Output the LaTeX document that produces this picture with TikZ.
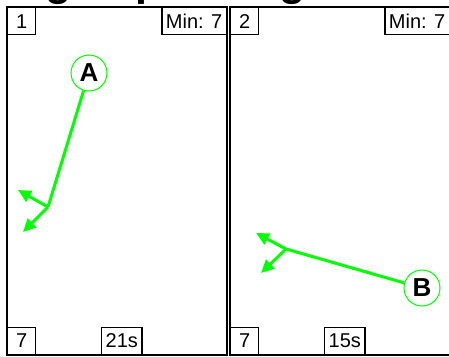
\documentclass[tikz,border=0pt]{standalone}
\usepackage{fontspec}
\setmainfont{Liberation Sans}
\usetikzlibrary{arrows.meta}
\definecolor{grn}{RGB}{0,255,0}
\begin{document}
\begin{tikzpicture}[x=1pt,y=-1pt,
  panel/.style={draw=black, line width=2pt},
  lbl/.style={draw=black, line width=1.4pt, fill=white, minimum width=28pt,
    minimum height=27pt, inner xsep=4pt, inner ysep=0pt,
    font=\fontsize{20}{22}\selectfont},
  marker/.style={circle, draw=grn, line width=1pt, fill=white,
    minimum size=36pt, inner sep=0pt, font=\fontsize{26}{28}\selectfont\bfseries},
  mv/.style={draw=grn, line width=3pt},
  mvarrow/.style={mv, -{Triangle[length=13pt,width=12pt]}},
  titlefont/.style={font=\fontsize{43}{46}\selectfont\bfseries, inner sep=0pt}
]
\useasboundingbox (0,0) rectangle (449,356);
\clip (0,0) rectangle (449,356);
\fill[white] (0,0) rectangle (449,356);

% title (mostly above the visible area)
\node[titlefont, anchor=base west] (title) at (-22,-5) {Stage Split Diagram};

% panels
\draw[panel] (7,7) rectangle (227,355);
\draw[panel] (230,7) rectangle (450,355);

% labels left panel
\node[lbl, anchor=north west] (n1) at (7,7) {1};
\node[lbl, anchor=north east] (m1) at (227,7) {Min: 7};
\node[lbl, anchor=south west] (b1) at (7,355) {7};
\node[lbl, anchor=south west] (t1) at (101,355) {21s};

% labels right panel
\node[lbl, anchor=north west] (n2) at (230,7) {2};
\node[lbl, anchor=north east] (m2) at (450,7) {Min: 7};
\node[lbl, anchor=south west] (b2) at (230,355) {7};
\node[lbl, anchor=south west] (t2) at (324,355) {15s};

% left panel movement
\node[marker] (A) at (89,73) {A};
\coordinate (P) at (48,207);
\coordinate (P1) at (18,190);
\coordinate (P2) at (23,232);
\draw[mv] (A) -- (P);
\draw[mvarrow] (P) -- (P1);
\draw[mvarrow] (P) -- (P2);

% right panel movement
\node[marker] (B) at (422,288) {B};
\coordinate (Q) at (286,249);
\coordinate (Q1) at (256,233);
\coordinate (Q2) at (261,273);
\draw[mv] (B) -- (Q);
\draw[mvarrow] (Q) -- (Q1);
\draw[mvarrow] (Q) -- (Q2);
\end{tikzpicture}
\end{document}
